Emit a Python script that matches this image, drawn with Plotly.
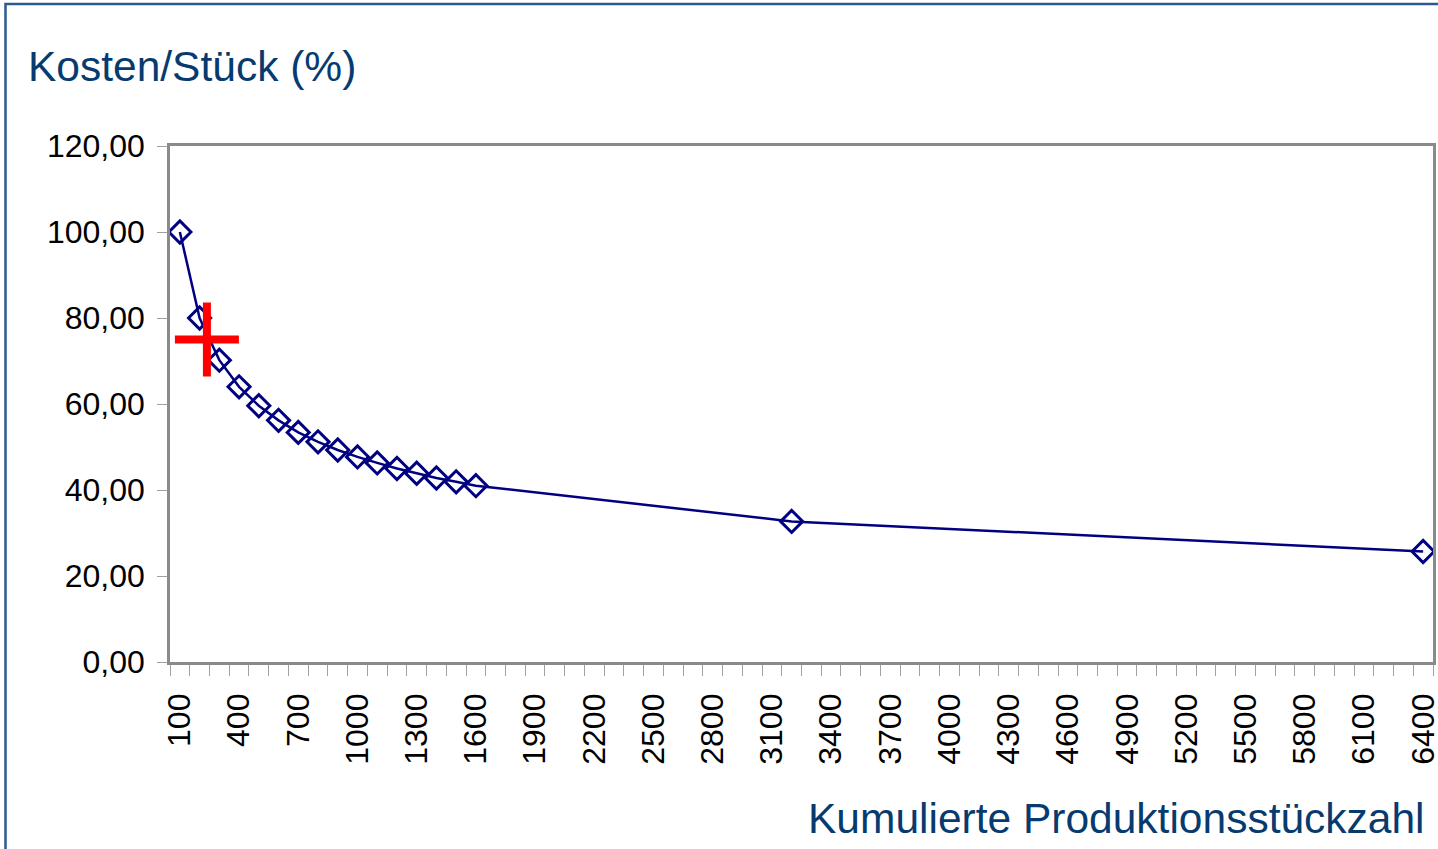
import plotly.graph_objects as go

# Data
units = [100, 200, 300, 400, 500, 600, 700, 800, 900, 1000, 1100, 1200,
         1300, 1400, 1500, 1600, 3200, 6400]
cost_pct = [100.0, 80.0, 70.2, 64.0, 59.6, 56.2, 53.4, 51.2, 49.3, 47.7,
            46.3, 45.0, 43.9, 42.8, 41.9, 41.0, 32.7, 25.7]
x_tick_labels = list(range(100, 6401, 300))
y_tick_values = [0, 20, 40, 60, 80, 100, 120]

title_y = "Kosten/Stück (%)"
title_x = "Kumulierte Produktionsstückzahl"
marker_pos = (237, 75)  # red cross position (data coords)

navy = "#000080"
text_blue = "#073B70"
frame_blue = "#2A5A8E"
grey = "#8A8A8A"

fig = go.Figure()
fig.add_trace(go.Scatter(
    x=units, y=cost_pct, mode="lines+markers",
    line=dict(color=navy, width=2.5),
    marker=dict(symbol="diamond-open", size=17, color=navy, line=dict(width=3, color=navy)),
    showlegend=False, hoverinfo="x+y",
))

fig.update_layout(
    width=1438, height=849,
    margin=dict(l=170, r=5, t=146, b=187, autoexpand=False),
    paper_bgcolor="white", plot_bgcolor="white",
    separators=",.",
    font=dict(family="Liberation Sans, Arial, sans-serif", color="black"),
    title=dict(text=title_y, x=28 / 1438, xref="container", xanchor="left",
               y=1 - 66 / 849, yref="container", yanchor="middle",
               font=dict(size=42.5, color=text_blue)),
)

fig.update_xaxes(
    range=[50, 6450], tickvals=x_tick_labels, ticktext=[str(v) for v in x_tick_labels],
    tickangle=-90, ticks="", ticklen=0, ticklabelstandoff=16,
    tickfont=dict(size=32, color="black"), automargin=False,
    ticklabeloverflow="allow",
    showgrid=False, zeroline=False,
    showline=True, linecolor=grey, linewidth=2.5, mirror=True,
    minor=dict(ticks="outside", tickmode="linear", tick0=50, dtick=100,
               ticklen=11, tickcolor="#A0A0A0", tickwidth=1, showgrid=False),
)
fig.update_yaxes(
    range=[0, 120], tickvals=y_tick_values, tickformat=".2f",
    ticks="outside", ticklen=10, tickcolor="#A0A0A0", tickwidth=1,
    ticklabelstandoff=6, automargin=False, ticklabeloverflow="allow",
    tickfont=dict(size=32, color="black"),
    showgrid=False, zeroline=False,
    showline=True, linecolor=grey, linewidth=2.5, mirror=True,
)

fig.add_annotation(
    text=title_x, xref="paper", yref="paper", x=(1427 - 170) / 1263, y=(662 - 818) / 516,
    xanchor="right", yanchor="middle", showarrow=False,
    font=dict(size=42.5, color=text_blue),
)

# Outer frame
fig.add_shape(type="rect", xref="paper", yref="paper",
              x0=(5.5 - 170) / 1263, x1=(1445 - 170) / 1263,
              y0=(662 - 4) / 516, y1=(662 - 860) / 516,
              line=dict(color=frame_blue, width=2.5), fillcolor="rgba(0,0,0,0)", layer="below")

# Red cross (pixel-sized, anchored to a data point)
cx, cy = marker_pos
fig.add_shape(type="rect", xref="x", yref="y", xsizemode="pixel", ysizemode="pixel",
              xanchor=cx, yanchor=cy, x0=-32, x1=32, y0=-4, y1=4,
              fillcolor="#FF0000", line=dict(width=0))
fig.add_shape(type="rect", xref="x", yref="y", xsizemode="pixel", ysizemode="pixel",
              xanchor=cx, yanchor=cy, x0=-4, x1=4, y0=-37, y1=37,
              fillcolor="#FF0000", line=dict(width=0))

fig.write_html("out.html", config={"displayModeBar": False},
               post_script="document.body.style.margin='0';document.body.style.overflow='hidden';")
